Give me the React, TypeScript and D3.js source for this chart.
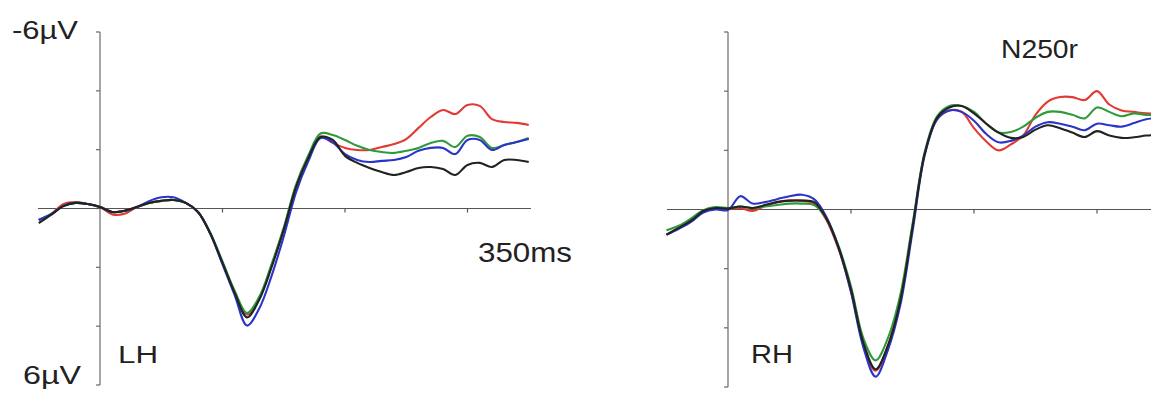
import React from "react";
import * as d3 from "d3";

const times = [-50,-40,-30,-20,-10,0,10,20,30,40,50,60,70,80,90,100,110,120,130,140,150,160,170,180,190,200,210,220,230,240,250,260,270,280,290,300,310,320,330,340,350];

// Left hemisphere (µV, negative plotted up)
const lhRed = [0.39,0.19,-0.15,-0.22,-0.15,-0.05,0.2,0.18,-0.05,-0.19,-0.26,-0.29,-0.19,0.12,0.85,1.85,2.87,3.6,3.05,1.95,0.7,-0.75,-1.75,-2.45,-2.23,-2.06,-1.99,-1.99,-2.09,-2.19,-2.36,-2.74,-3.11,-3.35,-3.21,-3.52,-3.49,-3.04,-2.94,-2.91,-2.84];
const lhGreen = [0.39,0.19,-0.08,-0.19,-0.15,-0.05,0.12,0.08,-0.05,-0.19,-0.26,-0.29,-0.19,0.12,0.82,1.8,2.8,3.55,3.0,1.9,0.65,-0.8,-1.8,-2.55,-2.5,-2.33,-2.13,-1.99,-1.92,-1.89,-1.96,-2.06,-2.23,-2.3,-2.09,-2.47,-2.43,-2.06,-2.16,-2.26,-2.4];
const lhBlue = [0.39,0.19,-0.08,-0.19,-0.15,-0.05,0.12,0.08,-0.05,-0.25,-0.38,-0.38,-0.19,0.12,0.85,1.9,2.95,3.98,3.4,2.3,0.95,-0.55,-1.6,-2.4,-2.25,-1.85,-1.65,-1.58,-1.62,-1.65,-1.75,-1.96,-2.06,-2.06,-1.85,-2.33,-2.33,-1.99,-2.16,-2.26,-2.36];
const lhBlack = [0.5,0.22,-0.08,-0.19,-0.15,-0.05,0.12,0.08,-0.05,-0.19,-0.26,-0.29,-0.19,0.12,0.85,1.85,2.87,3.7,3.1,2.0,0.72,-0.73,-1.72,-2.43,-2.33,-1.79,-1.55,-1.38,-1.24,-1.14,-1.24,-1.38,-1.41,-1.34,-1.14,-1.48,-1.55,-1.41,-1.65,-1.65,-1.58];

// Right hemisphere
const rhRed = [0.85,0.62,0.38,0.05,-0.05,-0.03,-0.05,0.05,-0.12,-0.25,-0.3,-0.3,-0.2,0.35,1.35,2.75,4.55,5.45,4.6,3.1,0.6,-1.9,-3.05,-3.35,-3.3,-2.75,-2.3,-2.0,-2.2,-2.5,-3.2,-3.65,-3.8,-3.8,-3.7,-4.0,-3.55,-3.35,-3.3,-3.25,-3.25];
const rhGreen = [0.7,0.55,0.3,0.02,-0.08,-0.05,-0.1,-0.05,-0.1,-0.15,-0.2,-0.2,-0.15,0.3,1.25,2.6,4.35,5.1,4.35,2.9,0.5,-1.95,-3.15,-3.5,-3.5,-3.3,-2.9,-2.6,-2.62,-2.8,-3.1,-3.3,-3.3,-3.2,-3.08,-3.45,-3.3,-3.15,-3.25,-3.2,-3.2];
const rhBlue = [0.85,0.65,0.42,0.1,0.0,0.02,-0.45,-0.2,-0.25,-0.35,-0.45,-0.5,-0.35,0.25,1.3,2.8,4.65,5.65,4.75,3.25,0.75,-1.85,-3.05,-3.35,-3.3,-3.0,-2.55,-2.27,-2.32,-2.5,-2.8,-2.95,-2.9,-2.8,-2.68,-2.9,-2.85,-2.8,-2.92,-3.05,-3.1];
const rhBlack = [0.85,0.62,0.38,0.05,-0.05,-0.03,-0.1,-0.05,-0.15,-0.25,-0.3,-0.3,-0.25,0.3,1.3,2.7,4.5,5.4,4.6,3.1,0.6,-1.9,-3.1,-3.45,-3.5,-3.25,-2.9,-2.6,-2.42,-2.45,-2.7,-2.85,-2.75,-2.6,-2.45,-2.65,-2.5,-2.42,-2.44,-2.5,-2.52];

const seriesColors = ["#e23a33", "#2e9a3c", "#2a35c8", "#222222"];
const yTicks = [-6, -4, -2, 0, 2, 4, 6];
const xTicks = [100, 200, 300];

type PanelProps = {
  x0: number; x1: number; yTop: number; yBot: number;
  axisStart: number; axisEnd: number;
  series: number[][];
  clipId: string;
};

function Panel({ x0, x1, yTop, yBot, axisStart, axisEnd, series, clipId }: PanelProps) {
  const x = d3.scaleLinear().domain([-50, 350]).range([x0, x1]);
  const y = d3.scaleLinear().domain([-6, 6]).range([yTop, yBot]);
  const line = d3.line<number>()
    .x((_, i) => x(times[i]))
    .y((d) => y(d))
    .curve(d3.curveCatmullRom.alpha(0.5));
  const ax = x(0);
  const zy = y(0);
  return (
    <g>
      <line x1={ax} x2={ax} y1={y(-6)} y2={y(6)} stroke="#6a6a6a" strokeWidth={1.2} />
      {yTicks.map((t) => (
        <line key={t} x1={ax - 4} x2={ax} y1={y(t)} y2={y(t)} stroke="#6a6a6a" strokeWidth={1.2} />
      ))}
      <line x1={axisStart} x2={axisEnd} y1={zy} y2={zy} stroke="#555" strokeWidth={1.2} />
      {xTicks.map((t) => (
        <line key={t} x1={x(t)} x2={x(t)} y1={zy} y2={zy + 4} stroke="#555" strokeWidth={1.2} />
      ))}
      <g clipPath={`url(#${clipId})`}>
        {series.map((s, i) => (
          <path key={i} d={line(s) || ""} fill="none" stroke={seriesColors[i]} strokeWidth={2.1} strokeLinejoin="round" />
        ))}
      </g>
    </g>
  );
}

export default function App() {
  const font = "'Liberation Sans', Arial, sans-serif";
  return (
    <svg width={1151} height={394} style={{ position: "absolute", left: 0, top: 0, background: "#fff" }} fontFamily={font}>
      <defs>
        <clipPath id="clipL"><rect x={0} y={0} width={560} height={394} /></clipPath>
        <clipPath id="clipR"><rect x={600} y={0} width={551} height={394} /></clipPath>
      </defs>
      <Panel x0={38.75} x1={528.75} yTop={32} yBot={385} axisStart={38} axisEnd={531}
        series={[lhRed, lhGreen, lhBlue, lhBlack]} clipId="clipL" />
      <Panel x0={666.5} x1={1158.5} yTop={32} yBot={387} axisStart={667} axisEnd={1151}
        series={[rhRed, rhGreen, rhBlue, rhBlack]} clipId="clipR" />
      <g fill="#222">
        <text x={12} y={39} fontSize={25} textLength={66} lengthAdjust="spacingAndGlyphs">-6µV</text>
        <text x={23} y={384} fontSize={25} textLength={58} lengthAdjust="spacingAndGlyphs">6µV</text>
        <text x={478} y={262} fontSize={28} textLength={94} lengthAdjust="spacingAndGlyphs">350ms</text>
        <text x={118} y={363} fontSize={23} textLength={40} lengthAdjust="spacingAndGlyphs">LH</text>
        <text x={751} y={363} fontSize={25} textLength={42} lengthAdjust="spacingAndGlyphs">RH</text>
        <text x={1001} y={58} fontSize={25} textLength={77} lengthAdjust="spacingAndGlyphs">N250r</text>
      </g>
    </svg>
  );
}
